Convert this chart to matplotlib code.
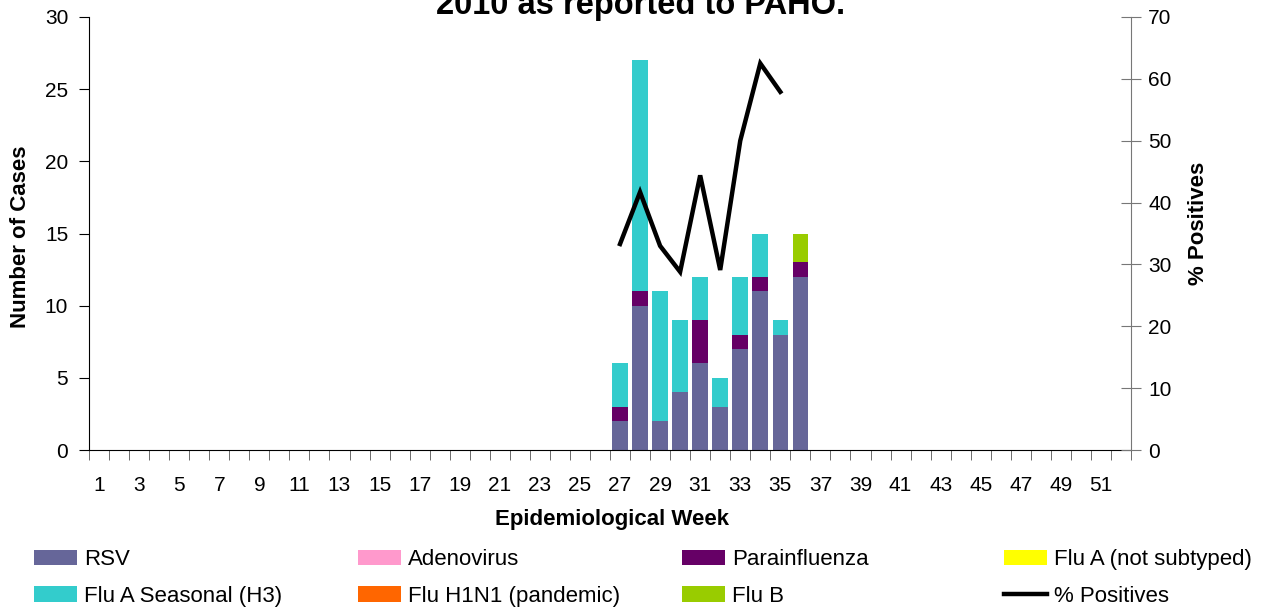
import numpy as np
import matplotlib
matplotlib.use("Agg")
import matplotlib.pyplot as plt
from matplotlib.patches import Patch
from matplotlib.lines import Line2D

plt.rcParams['font.family'] = ['Liberation Sans', 'DejaVu Sans']

weeks = list(range(1, 53))
nan = np.nan

def full(d):
    return [d.get(w, 0) for w in weeks]

rsv = full({27: 2, 28: 10, 29: 2, 30: 4, 31: 6, 32: 3, 33: 7, 34: 11, 35: 8, 36: 12})
adenovirus = full({})
parainfluenza = full({27: 1, 28: 1, 31: 3, 33: 1, 34: 1, 36: 1})
flu_a_not_subtyped = full({})
flu_a_h3 = full({27: 3, 28: 16, 29: 9, 30: 5, 31: 3, 32: 2, 33: 4, 34: 3, 35: 1})
flu_h1n1 = full({})
flu_b = full({36: 2})
pct_dict = {27: 33.3, 28: 41.7, 29: 33.0, 30: 28.8, 31: 44.4, 32: 29.1, 33: 50.0, 34: 62.5, 35: 57.9}
pct_positive = [pct_dict.get(w, nan) for w in weeks]

series = [
    ("RSV", rsv, "#666699"),
    ("Adenovirus", adenovirus, "#FF99CC"),
    ("Parainfluenza", parainfluenza, "#660066"),
    ("Flu A (not subtyped)", flu_a_not_subtyped, "#FFFF00"),
    ("Flu A Seasonal (H3)", flu_a_h3, "#33CCCC"),
    ("Flu H1N1 (pandemic)", flu_h1n1, "#FF6600"),
    ("Flu B", flu_b, "#99CC00"),
]

W, H = 1261, 607
fig = plt.figure(figsize=(W / 100, H / 100), dpi=100)
ax = fig.add_axes([89 / W, 1 - 450 / H, (1131 - 89) / W, (450 - 17) / H])

x = np.array(weeks)
bottom = np.zeros(len(weeks))
for name, vals, col in series:
    v = np.array(vals, dtype=float)
    ax.bar(x, v, width=0.78, bottom=bottom, color=col, edgecolor='none', zorder=2)
    bottom += v

ax.set_xlim(0.5, 52.5)
ax.set_ylim(0, 30)
ax.set_yticks(range(0, 31, 5))
ax.set_xticks(range(1, 53, 2))
ax.set_xticklabels([str(w) for w in range(1, 53, 2)])
ax.set_xticks(np.arange(0.5, 53, 1), minor=True)
ax.tick_params(axis='x', which='major', length=0, labelsize=15, pad=19)
ax.tick_params(axis='x', which='minor', length=7, color='#555555', direction='out')
ax.tick_params(axis='y', length=7, labelsize=15, direction='out', pad=8)
for s in ['top', 'right']:
    ax.spines[s].set_visible(False)
ax.spines['left'].set_color('black')
ax.spines['bottom'].set_color('black')

ax2 = ax.twinx()
ax2.plot(x, pct_positive, color='black', lw=3.2, zorder=5, solid_joinstyle='miter')
ax2.set_ylim(0, 70)
ax2.set_yticks(range(0, 71, 10))
ax2.tick_params(axis='y', length=15, direction='inout', labelsize=15, color='#777777', pad=5)
for s in ['top', 'left', 'bottom']:
    ax2.spines[s].set_visible(False)
ax2.spines['right'].set_color('#777777')
ax2.set_xlim(0.5, 52.5)

fig.text(21 / W, 1 - 237 / H, "Number of Cases", rotation=90, ha='center', va='center',
         fontsize=16, fontweight='bold')
fig.text(1198 / W, 1 - 223 / H, "% Positives", rotation=90, ha='center', va='center',
         fontsize=16, fontweight='bold')
fig.text(612 / W, 1 - 519 / H, "Epidemiological Week", ha='center', va='center',
         fontsize=16, fontweight='bold')
fig.text(641 / W, 1 - 14 / H, "2010 as reported to PAHO.", ha='center', va='baseline',
         fontsize=23.5, fontweight='bold')

# legend: four columns of two entries
cols = [
    [("RSV", "#666699"), ("Flu A Seasonal (H3)", "#33CCCC")],
    [("Adenovirus", "#FF99CC"), ("Flu H1N1 (pandemic)", "#FF6600")],
    [("Parainfluenza", "#660066"), ("Flu B", "#99CC00")],
    [("Flu A (not subtyped)", "#FFFF00"), ("% Positives", None)],
]
col_x = [34, 358, 682, 1004]
fs = 16
pxpt = fs * 100 / 72
for cx, entries in zip(col_x, cols):
    handles = []
    labels = []
    for lab, c in entries:
        if c is None:
            handles.append(Line2D([0], [0], color='black', lw=3.2))
        else:
            handles.append(Patch(facecolor=c, edgecolor='none'))
        labels.append(lab)
    leg = fig.legend(handles, labels, loc='upper left',
                     bbox_to_anchor=(cx / W, 1 - 549 / H), bbox_transform=fig.transFigure,
                     frameon=False, fontsize=fs, handlelength=43 / pxpt, handleheight=15 / pxpt,
                     handletextpad=7 / pxpt, labelspacing=(38 - pxpt) / pxpt,
                     borderpad=0, borderaxespad=0)

fig.savefig("out.png", dpi=100)
